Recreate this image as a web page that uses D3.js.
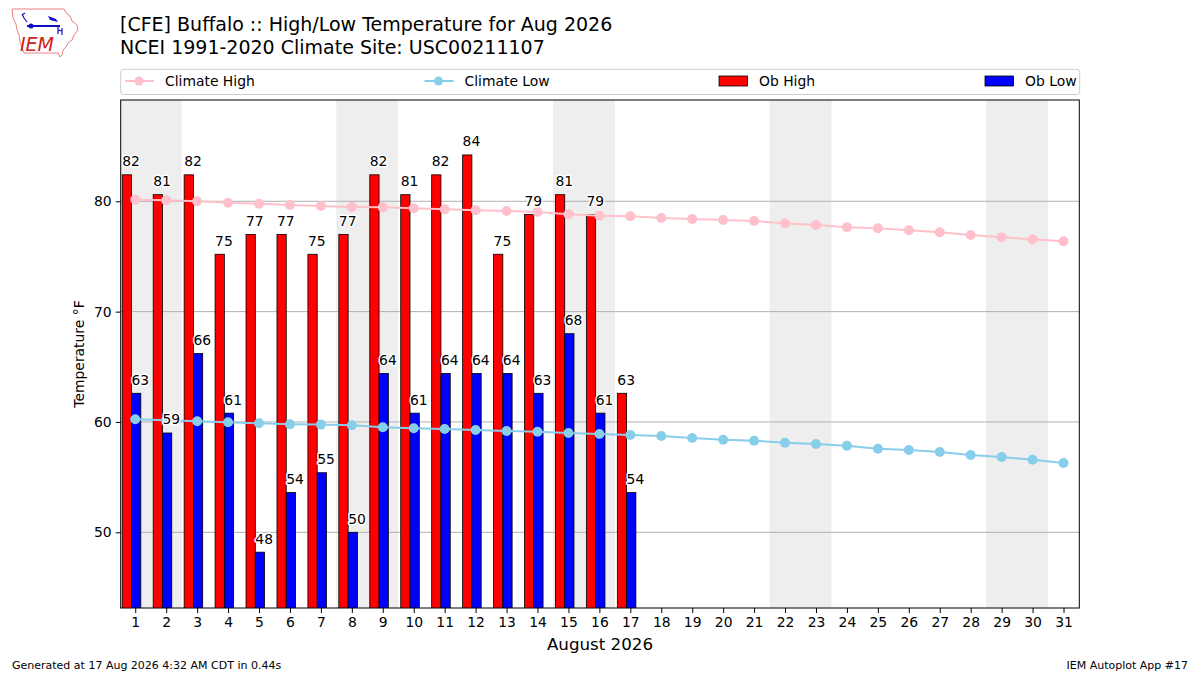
<!DOCTYPE html>
<html>
<head>
<meta charset="utf-8">
<script src="https://cdn.jsdelivr.net/npm/d3@7"></script>
<style>
body{margin:0;background:#fff;}
svg text{font-family:"DejaVu Sans",sans-serif;fill:#000;}
</style>
</head>
<body>
<svg id="chart"></svg>
<script>
// days of the month, x ticks
var days=[1,2,3,4,5,6,7,8,9,10,11,12,13,14,15,16,17,18,19,20,21,22,23,24,25,26,27,28,29,30,31]
// observed (values are whole C converted to F)
var obDays=[1,2,3,4,5,6,7,8,9,10,11,12,13,14,15,16,17]
var obHigh=[82.4,80.6,82.4,75.2,77,77,75.2,77,82.4,80.6,82.4,84.2,75.2,78.8,80.6,78.8,62.6]
var obLow=[62.6,59,66.2,60.8,48.2,53.6,55.4,50,64.4,60.8,64.4,64.4,64.4,62.6,68,60.8,53.6]
// NCEI climate normals
var climateHigh=[80.15,80.09,80.0,79.87,79.77,79.66,79.57,79.48,79.45,79.37,79.27,79.18,79.12,79.03,78.82,78.70,78.64,78.49,78.40,78.31,78.21,78.0,77.85,77.64,77.55,77.37,77.19,76.95,76.74,76.56,76.38]
var climateLow=[60.25,60.15,60.06,59.97,59.88,59.79,59.76,59.70,59.52,59.43,59.36,59.27,59.18,59.12,59.0,58.91,58.82,58.73,58.55,58.39,58.30,58.12,58.0,57.85,57.58,57.46,57.28,57.0,56.83,56.58,56.28]
// weekend starts (Saturdays) for the grey bands
var weekends=[1,8,15,22,29]
var yTicks=[50,60,70,80]

var screen={width:1200,height:675}
var plot={left:120.7,right:1079.3,top:100,bottom:608}

var svg=d3.select("#chart")
    .attr("width",screen.width)
    .attr("height",screen.height)

var xScale=d3.scaleLinear()
    .domain([0.53,31.51])
    .range([plot.left,plot.right])
var yScale=d3.scaleLinear()
    .domain([43.14,89.18])
    .range([plot.bottom,plot.top])

svg.append("defs").append("clipPath").attr("id","clip")
    .append("rect")
    .attr("x",plot.left).attr("y",plot.top)
    .attr("width",plot.right-plot.left).attr("height",plot.bottom-plot.top)

var inner=svg.append("g").attr("clip-path","url(#clip)")

//weekend shading
inner.selectAll(".wk")
    .data(weekends)
    .enter()
    .append("rect")
    .attr("x",function(d){return xScale(d-0.5)})
    .attr("width",function(d){return xScale(d+1.5)-xScale(d-0.5)})
    .attr("y",plot.top)
    .attr("height",plot.bottom-plot.top)
    .attr("fill","#eeeeee")

//grid
inner.selectAll(".grid")
    .data(yTicks)
    .enter()
    .append("line")
    .attr("x1",plot.left).attr("x2",plot.right)
    .attr("y1",function(d){return yScale(d)})
    .attr("y2",function(d){return yScale(d)})
    .attr("stroke","#b0b0b0")
    .attr("stroke-width",1)

var drawBars=function(values,offset,color){
    inner.selectAll(".bar-"+color)
    .data(values)
    .enter()
    .append("rect")
    .attr("x",function(d,i){return xScale(obDays[i]+offset)})
    .attr("width",function(d,i){return xScale(obDays[i]+offset+0.3)-xScale(obDays[i]+offset)})
    .attr("y",function(d){return yScale(d)})
    .attr("height",function(d){return yScale(0)-yScale(d)})
    .attr("fill",color)
    .attr("stroke","#000")
    .attr("stroke-width",0.8)
}
drawBars(obHigh,-0.42,"red")
drawBars(obLow,-0.12,"blue")

var drawClimate=function(values,color){
    var line=d3.line()
        .x(function(d,i){return xScale(days[i])})
        .y(function(d){return yScale(d)})
    inner.append("path")
        .datum(values)
        .attr("d",line)
        .attr("fill","none")
        .attr("stroke",color)
        .attr("stroke-width",2)
    inner.selectAll(".pt-"+color)
        .data(values)
        .enter()
        .append("circle")
        .attr("cx",function(d,i){return xScale(days[i])})
        .attr("cy",function(d){return yScale(d)})
        .attr("r",5)
        .attr("fill",color)
}
drawClimate(climateHigh,"pink")
drawClimate(climateLow,"skyblue")

var drawLabels=function(values,offset){
    svg.append("g").selectAll("text")
    .data(values)
    .enter()
    .append("text")
    .attr("x",function(d,i){return xScale(obDays[i]+offset)})
    .attr("y",function(d){return yScale(d+0.5)-3})
    .attr("font-size","13.9px")
    .attr("stroke","#fff")
    .attr("stroke-width",3)
    .attr("paint-order","stroke")
    .attr("stroke-linejoin","round")
    .text(function(d){return Math.round(d)})
}
drawLabels(obHigh,-0.42)
drawLabels(obLow,-0.12)

//frame
svg.append("rect")
    .attr("x",plot.left).attr("y",plot.top)
    .attr("width",plot.right-plot.left).attr("height",plot.bottom-plot.top)
    .attr("fill","none").attr("stroke","#000").attr("stroke-width",1)

//axes
var xAxis=d3.axisBottom(xScale).tickValues(days).tickSize(5).tickPadding(4).tickFormat(d3.format("d"))
var gx=svg.append("g").attr("transform","translate(0,"+plot.bottom+")").call(xAxis)
gx.select(".domain").remove()
gx.selectAll("text").attr("font-size","13.9px").attr("font-family","DejaVu Sans")

var yAxis=d3.axisLeft(yScale).tickValues(yTicks).tickSize(5).tickPadding(4)
var gy=svg.append("g").attr("transform","translate("+plot.left+",0)").call(yAxis)
gy.select(".domain").remove()
gy.selectAll("text").attr("font-size","13.9px").attr("font-family","DejaVu Sans")

svg.append("text")
    .attr("x",(plot.left+plot.right)/2).attr("y",650)
    .attr("text-anchor","middle").attr("font-size","16.7px")
    .text("August 2026")
svg.append("text")
    .attr("transform","translate(84,"+(plot.top+plot.bottom)/2+") rotate(-90)")
    .attr("text-anchor","middle").attr("font-size","13.9px")
    .text("Temperature °F")

//titles
svg.append("text").attr("x",120).attr("y",31).attr("font-size","19px")
    .text("[CFE] Buffalo :: High/Low Temperature for Aug 2026")
svg.append("text").attr("x",120).attr("y",54).attr("font-size","19px")
    .text("NCEI 1991-2020 Climate Site: USC00211107")

//legend
var legend=svg.append("g")
legend.append("rect")
    .attr("x",120.7).attr("y",69.3).attr("width",959).attr("height",25.2)
    .attr("rx",3).attr("fill","#fff").attr("stroke","#cccccc")
var legendItems=[
    {name:"Climate High",color:"pink",kind:"line",x:125},
    {name:"Climate Low",color:"skyblue",kind:"line",x:424.5},
    {name:"Ob High",color:"red",kind:"box",x:719},
    {name:"Ob Low",color:"blue",kind:"box",x:985}
]
legendItems.forEach(function(item){
    if(item.kind=="line"){
        legend.append("line").attr("x1",item.x).attr("x2",item.x+29)
            .attr("y1",81).attr("y2",81).attr("stroke",item.color).attr("stroke-width",2)
        legend.append("circle").attr("cx",item.x+14).attr("cy",81).attr("r",4.5).attr("fill",item.color)
    }else{
        legend.append("rect").attr("x",item.x).attr("y",76).attr("width",28.5).attr("height",10)
            .attr("fill",item.color).attr("stroke","#000").attr("stroke-width",0.8)
    }
    legend.append("text").attr("x",item.x+40).attr("y",86).attr("font-size","13.9px").text(item.name)
})

//footer
svg.append("text").attr("x",12).attr("y",669).attr("font-size","11px")
    .text("Generated at 17 Aug 2026 4:32 AM CDT in 0.44s")
svg.append("text").attr("x",1188).attr("y",669).attr("font-size","11px").attr("text-anchor","end")
    .text("IEM Autoplot App #17")

//IEM logo, rough
var logo=svg.append("g")
logo.append("path")
    .attr("d","M12,9 L64,9 L66,13 L70,16 L72,21 L77,25 L78,30 L74,35 L72,40 L68,43 L66,47 L63,50 L62,55 L60,57 L58,53 L24,53 L22,48 L20,42 L19,35 L17,30 L16,24 L13,18 Z")
    .attr("fill","none").attr("stroke","#e88080").attr("stroke-width",1)
logo.append("line").attr("x1",27).attr("x2",60).attr("y1",26).attr("y2",26).attr("stroke","#1010c0").attr("stroke-width",1.8)
logo.append("circle").attr("cx",31).attr("cy",26).attr("r",2.5).attr("fill","#1010c0")
logo.append("path").attr("d","M48,16 L56,19 L58,22 L50,20 Z").attr("fill","#1010c0")
logo.append("path").attr("d","M22,14 L24,18 L27,22 M25,13 L22,15").attr("fill","none").attr("stroke","#1010c0").attr("stroke-width",1.2)
logo.append("path").attr("d","M58,26 L58,34 M58,30 L62,31 M62,28 L62,35").attr("fill","none").attr("stroke","#1010c0").attr("stroke-width",1.2)
logo.append("text").attr("x",20).attr("y",51).attr("font-family","Liberation Serif")
    .attr("font-style","italic").attr("font-size","19px").style("fill","#d02020")
    .text("IEM")
</script>
</body>
</html>
